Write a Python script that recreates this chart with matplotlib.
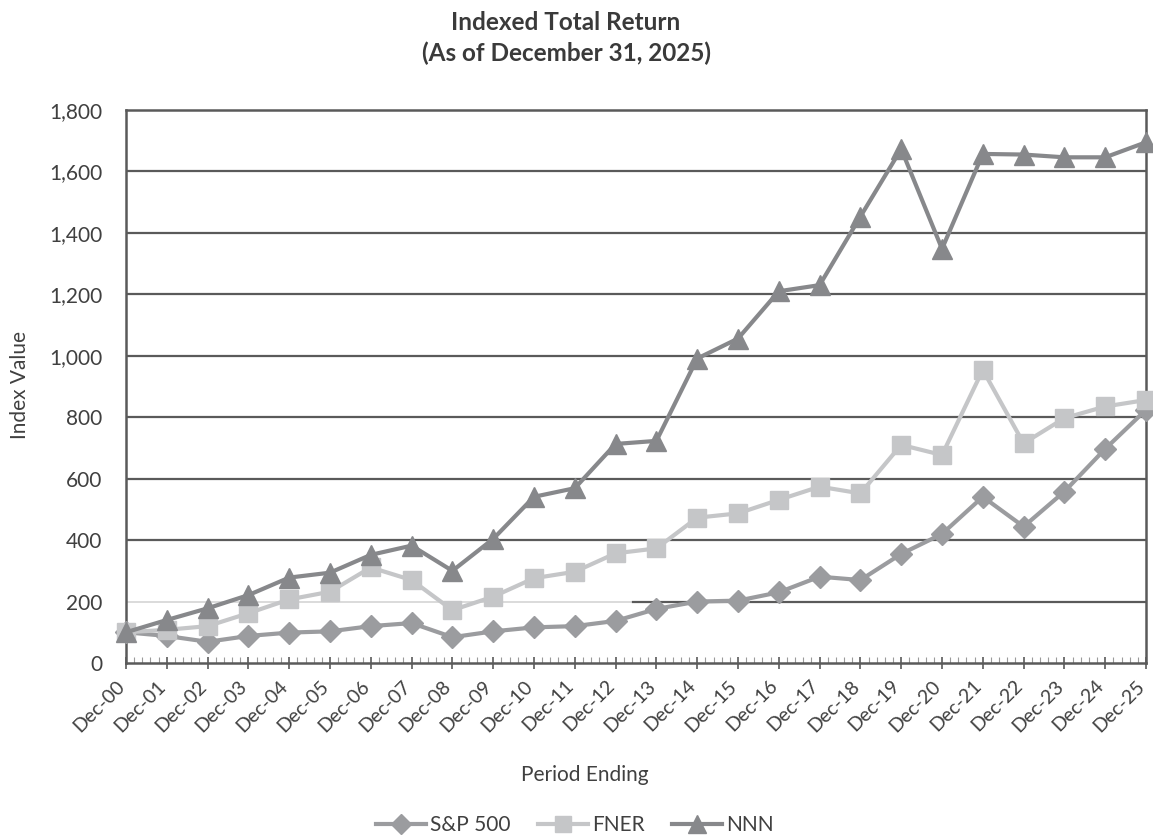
import numpy as np
import matplotlib
matplotlib.use("Agg")
import matplotlib.pyplot as plt
from matplotlib.ticker import MultipleLocator, FuncFormatter
from matplotlib.lines import Line2D
from matplotlib.transforms import ScaledTranslation

# index values, Dec-00 = 100
periodes = [f"Dec-{a:02d}" for a in range(0, 26)]
sp500 = [100, 88, 69, 88, 99, 103, 120, 130, 84, 103, 116, 120, 137, 176, 200, 203, 230, 281, 270, 355,
         420, 541, 444, 558, 697, 824]
fner = [100, 108, 120, 162, 207, 232, 311, 270, 172, 216, 276, 297, 357, 373, 473, 487, 531, 574, 552, 710,
        677, 954, 715, 797, 835, 856]
nnn = [100, 140, 178, 221, 278, 294, 352, 382, 300, 404, 541, 569, 713, 723, 991, 1056, 1210, 1230, 1453, 1673,
       1348, 1657, 1655, 1646, 1646, 1695]
series = [("S&P 500", sp500, "D", "#9b9c9f", 11), ("FNER", fner, "s", "#c5c6c8", 13), ("NNN", nnn, "^", "#87888b", 14)]

plt.rcParams['font.family'] = ['Lato', 'DejaVu Sans']
texte = "#404040"
grille = "#5a5a5a"

fig = plt.figure(figsize=(11.53, 8.35), dpi=100)
ax = fig.add_axes([126/1153, 1-663/835, 1020/1153, 553/835])
x = np.arange(len(periodes))

for y in range(400, 1800, 200):
    ax.axhline(y, color=grille, lw=1.6, zorder=1)
ax.axhline(200, xmax=0.497, color="#d4d4d4", lw=1.2, zorder=1)
ax.axhline(200, xmin=0.497, color=grille, lw=1.6, zorder=1)

for nom, vals, mk, coul, ms in series:
    ax.plot(x, vals, color=coul, lw=3, marker=mk, ms=ms, mec=coul, mfc=coul, clip_on=False, zorder=3)

ax.set_xlim(0, 25)
ax.set_ylim(0, 1800)
ax.set_yticks(range(0, 1801, 200))
ax.yaxis.set_major_formatter(FuncFormatter(lambda v, p: f"{int(v):,}"))
ax.set_xticks(x)
ax.xaxis.set_minor_locator(MultipleLocator(0.2))
ax.tick_params(axis='y', length=0, labelsize=15, labelcolor=texte, pad=17)
ax.tick_params(axis='x', which='major', direction='inout', length=9, width=1.2, color=grille,
               labelsize=14, labelcolor=texte, pad=10)
ax.tick_params(axis='x', which='minor', direction='in', length=4, width=0.8, color="#9a9a9a")
ax.set_xticklabels(periodes, rotation=45, ha='right', va='center', rotation_mode='anchor')
# small shift left so the last label stays inside the figure
decalage = ScaledTranslation(-0.04, 0, fig.dpi_scale_trans)
for lbl in ax.get_xticklabels():
    lbl.set_transform(lbl.get_transform() + decalage)
for s in ax.spines.values():
    s.set_color(grille)
    s.set_linewidth(1.8)

fig.text(566/1153, 1-22/835, "Indexed Total Return", ha='center', va='center', fontsize=17.5,
         fontweight='bold', color="#3a3a3a")
fig.text(566/1153, 1-53/835, "(As of December 31, 2025)", ha='center', va='center', fontsize=17.5,
         fontweight='bold', color="#3a3a3a")
fig.text(585/1153, 1-775/835, "Period Ending", ha='center', va='center', fontsize=15, color=texte)
fig.text(20/1153, 1-385/835, "Index Value", ha='center', va='center', fontsize=15, color=texte, rotation=90)

poignees = [Line2D([], [], color=c, lw=3, marker=m, ms=s - 1, mec=c, mfc=c) for _, _, m, c, s in series]
fig.legend(poignees, [n for n, *_ in series], loc='center', bbox_to_anchor=(575/1153, 1-825/835), ncol=3,
           frameon=False, fontsize=15, labelcolor=texte, handlelength=2.4, columnspacing=1.3, handletextpad=0.2)

fig.savefig("out.png", dpi=100)
